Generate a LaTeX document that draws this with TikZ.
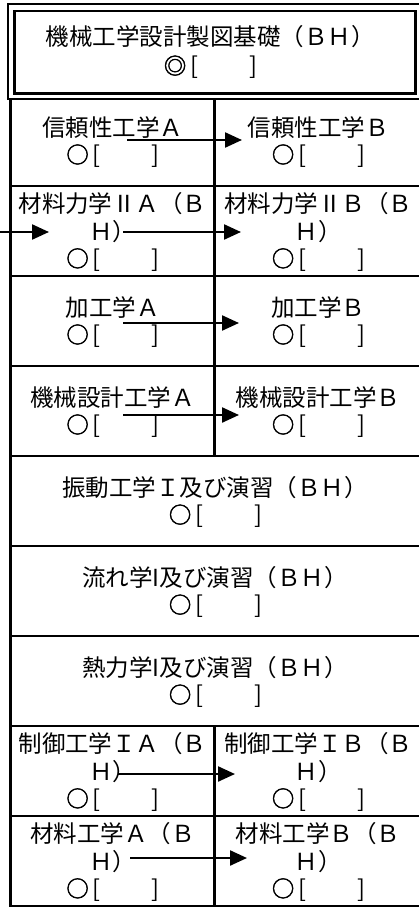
\documentclass[tikz,border=0pt]{standalone}
\usepackage{fontspec}
\newfontfamily\jpfont{Noto Sans CJK JP}
\newfontfamily\jpheavy[FakeBold=2]{Noto Sans CJK JP}
\usetikzlibrary{arrows.meta}
\newcommand{\circmark}[1]{\makebox[1.15em][l]{\hspace{0.04em}\raisebox{0.03em}{\scalebox{0.95}{\jpheavy #1}}}}
\newcommand{\slotO}{\circmark{○}\makebox[0.5em][l]{[}\hspace{1.85em}\makebox[0.5em][r]{]}}
\newcommand{\slotD}{\circmark{◎}\makebox[0.5em][l]{[}\hspace{1.85em}\makebox[0.5em][r]{]}}
\begin{document}
\begin{tikzpicture}[x=1pt,y=-1pt,
  grid/.style={line width=2.7pt},
  cell/.style={font=\jpfont\fontsize{23.5}{27.5}\selectfont, align=center, inner sep=0pt},
  arr/.style={line width=2.3pt, -{Triangle[length=17pt,width=15pt]}}]
\useasboundingbox (0,0) rectangle (419,908);
\clip (0,0) rectangle (419,908);
% top double box
\draw[grid] (8,4) rectangle (424,99);
\draw[grid] (14.5,11) rectangle (415.5,93.5);
% table
\draw[grid] (10.5,99) -- (10.5,906) -- (424,906);
\foreach \yy in {186,276,366,456,546,636,726,816}
  \draw[grid] (10.5,\yy) -- (424,\yy);
\draw[grid] (214.5,99) -- (214.5,456);
\draw[grid] (214.5,726) -- (214.5,906);
% texts
\node[cell] (top) at (210,52) {機械工学設計製図基礎（ＢＨ）\\[2pt]\slotD};
\node[cell] (r1a) at (112.5,142) {信頼性工学Ａ\\\slotO};
\node[cell] (r1b) at (318,142) {信頼性工学Ｂ\\\slotO};
\node[cell] (r2a) at (112.5,232) {材料力学ⅡＡ（Ｂ\\Ｈ）\\\slotO};
\node[cell] (r2b) at (318,232) {材料力学ⅡＢ（Ｂ\\Ｈ）\\\slotO};
\node[cell] (r3a) at (112.5,322) {加工学Ａ\\\slotO};
\node[cell] (r3b) at (318,322) {加工学Ｂ\\\slotO};
\node[cell] (r4a) at (112.5,412) {機械設計工学Ａ\\\slotO};
\node[cell] (r4b) at (318,412) {機械設計工学Ｂ\\\slotO};
\node[cell] (r5) at (215,502) {振動工学Ｉ及び演習（ＢＨ）\\\slotO};
\node[cell] (r6) at (215,592) {流れ学I及び演習（ＢＨ）\\\slotO};
\node[cell] (r7) at (215,682) {熱力学I及び演習（ＢＨ）\\\slotO};
\node[cell] (r8a) at (112.5,772) {制御工学ＩＡ（Ｂ\\Ｈ）\\\slotO};
\node[cell] (r8b) at (318,772) {制御工学ＩＢ（Ｂ\\Ｈ）\\\slotO};
\node[cell] (r9a) at (112.5,862) {材料工学Ａ（Ｂ\\Ｈ）\\\slotO};
\node[cell] (r9b) at (318,862) {材料工学Ｂ（Ｂ\\Ｈ）\\\slotO};
% arrow ends
\coordinate (a1s) at (127,140); \coordinate (a1e) at (242,140);
\coordinate (a0s) at (-2,232);  \coordinate (a0e) at (49,232);
\coordinate (a2s) at (123,232); \coordinate (a2e) at (241,232);
\coordinate (a3s) at (123,323); \coordinate (a3e) at (239,323);
\coordinate (a4s) at (123,415); \coordinate (a4e) at (239,415);
\coordinate (a8s) at (118,774); \coordinate (a8e) at (235,774);
\coordinate (a9s) at (130,858); \coordinate (a9e) at (247,858);
\foreach \a in {1,0,2,3,4,8,9}
  \draw[arr] (a\a s) -- (a\a e);
\end{tikzpicture}
\end{document}
